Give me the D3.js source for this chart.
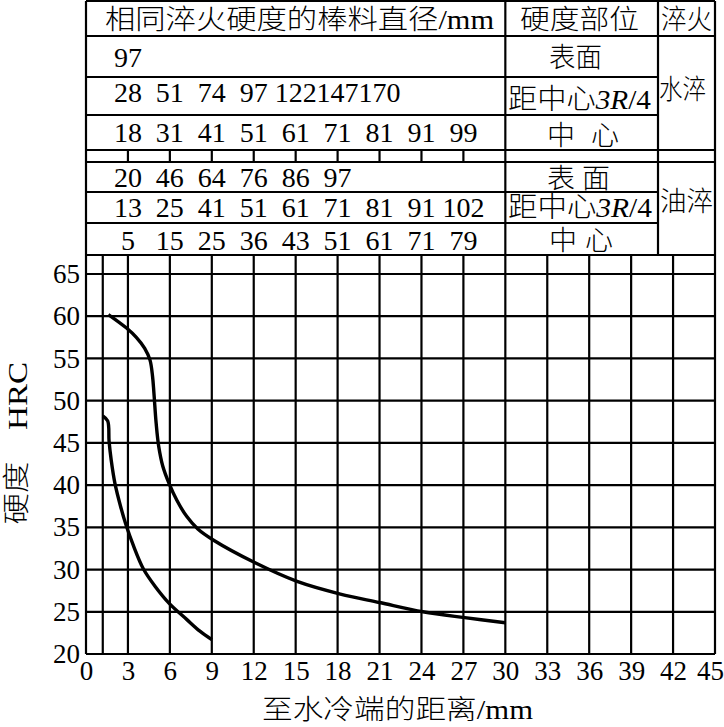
<!DOCTYPE html>
<html>
<head>
<meta charset="utf-8">
<script src="https://cdn.jsdelivr.net/npm/d3@7"></script>
<style>
    body { margin: 0; background: #fff; }
    text { font-family: "Liberation Serif", "Noto Sans CJK SC", serif; font-weight: 300; fill: #000; }
</style>
</head>
<body>
<div id="chart"></div>
<script>

// axis ticks
var distTicks = [0, 3, 6, 9, 12, 15, 18, 21, 24, 27, 30, 33, 36, 39, 42, 45];
var hrcTicks = [20, 25, 30, 35, 40, 45, 50, 55, 60, 65];
var gridDist = [1.2, 3, 6, 9, 12, 15, 18, 21, 24, 27, 30, 33, 36, 39, 42];

// bar diameters with the same hardness (mm), one per 3 mm column
var waterSurface = [97];
var waterQuarter = [28, 51, 74, 97, 122, 147, 170];
var waterCenter = [18, 31, 41, 51, 61, 71, 81, 91, 99];
var oilSurface = [20, 46, 64, 76, 86, 97];
var oilQuarter = [13, 25, 41, 51, 61, 71, 81, 91, 102];
var oilCenter = [5, 15, 25, 36, 43, 51, 61, 71, 79];
var colDist = [3, 6, 9, 12, 15, 18, 21, 24, 27];

// hardness curves [distance mm, HRC]
var upperCurve = [[1.6, 60.2], [2.9, 58.6], [3.6, 57.5], [4.2, 56.2], [4.58, 54.8], [4.76, 52.9],
    [4.86, 50.9], [5.02, 47.3], [5.2, 44.6], [5.5, 42.2], [5.94, 40.2], [6.5, 38.2],
    [7.2, 36.3], [8.0, 34.8], [9.1, 33.5], [12.1, 30.8], [15.1, 28.6], [18.2, 27.1], [21, 26.1],
    [24.1, 25.0], [27.1, 24.3], [30, 23.7]];
var lowerCurve = [[1.2, 48.2], [1.55, 47.6], [1.65, 45.2], [1.8, 43.0], [2.07, 40.2], [2.47, 37.5],
    [2.86, 35.3], [3.4, 32.8], [4.1, 30.1], [4.95, 28.0], [5.95, 26.0], [7.2, 24.1],
    [8.15, 22.7], [9.0, 21.7]];

var W = 724, H = 727;
var left = 86, right = 715, tableTop = 1, chartTop = 255, chartBottom = 654;
var quenchCol = 658;

var x = d3.scaleLinear().domain([0, 45]).range([left, right]);
var y = d3.scaleLinear().domain([20, 65]).range([chartBottom, 274]);

var svg = d3.select("#chart").append("svg")
    .attr("width", W)
    .attr("height", H);

svg.append("rect").attr("width", W).attr("height", H).attr("fill", "#fff");

var lines = svg.append("g")
    .attr("stroke", "#000")
    .attr("stroke-width", 2.2)
    .attr("fill", "none");

function hline(y0, x0, x1) {
    lines.append("line").attr("x1", x0).attr("x2", x1).attr("y1", y0).attr("y2", y0);
}
function vline(x0, y0, y1) {
    lines.append("line").attr("x1", x0).attr("x2", x0).attr("y1", y0).attr("y2", y1);
}

// table frame
var partCol = x(30);
hline(tableTop, left, right);
hline(36, left, right);
hline(77, left, quenchCol);
hline(115, left, quenchCol);
hline(150, left, right);
hline(162, left, right);
hline(192, left, quenchCol);
hline(223, left, quenchCol);
hline(chartTop, left, right);
vline(left, tableTop, chartBottom);
vline(right, tableTop, chartBottom);
vline(partCol, tableTop, chartTop);
vline(quenchCol, tableTop, chartTop);
colDist.forEach(function (d) {
    vline(x(d), 150, 162);
});

// chart grid
hrcTicks.forEach(function (d) {
    hline(y(d), left, right);
});
gridDist.forEach(function (d) {
    vline(x(d), chartTop, chartBottom);
});

// curves
var line = d3.line()
    .curve(d3.curveCatmullRom.alpha(0.5))
    .x(function (d) { return x(d[0]); })
    .y(function (d) { return y(d[1]); });

svg.selectAll(".curve")
    .data([upperCurve, lowerCurve])
    .enter().append("path")
    .attr("class", "curve")
    .attr("d", line)
    .attr("fill", "none")
    .attr("stroke", "#000")
    .attr("stroke-width", 3.4);

// table numbers
var rows = [
    {vals: waterSurface, base: 67},
    {vals: waterQuarter, base: 102},
    {vals: waterCenter, base: 142},
    {vals: oilSurface, base: 187},
    {vals: oilQuarter, base: 217},
    {vals: oilCenter, base: 250}
];
rows.forEach(function (r) {
    svg.append("g").selectAll("text")
        .data(r.vals)
        .enter().append("text")
        .attr("x", function (d, i) { return x(colDist[i]); })
        .attr("y", r.base)
        .attr("text-anchor", "middle")
        .attr("font-size", 28)
        .text(function (d) { return d; });
});

function label(txt, x0, y0, len, size) {
    var t = svg.append("text")
        .attr("x", x0)
        .attr("y", y0)
        .attr("font-size", size || 27)
        .text(txt);
    if (len) t.attr("textLength", len).attr("lengthAdjust", "spacingAndGlyphs");
    return t;
}

function quarterLabel(x0, y0, len) {
    var t = svg.append("text")
        .attr("x", x0)
        .attr("y", y0)
        .attr("font-size", 28)
        .attr("textLength", len)
        .attr("lengthAdjust", "spacingAndGlyphs");
    t.append("tspan").text("距中心");
    t.append("tspan").attr("font-style", "italic").text("3R");
    t.append("tspan").text("/4");
}

// header row
label("相同淬火硬度的棒料直径/mm", 105, 29, 389);
label("硬度部位", 520, 29, 119);
label("淬火", 661, 29, 51);

// hardness position column
label("表面", 549, 67, 53);
quarterLabel(508, 109, 143);
label("中", 547, 145, 28);
label("心", 591, 145, 28);
label("表", 547, 188, 28);
label("面", 582, 188, 28);
quarterLabel(508, 217, 144);
label("中", 549, 250, 28);
label("心", 585, 250, 28);

// quench column
label("水淬", 659, 99, 47);
label("油淬", 660, 211, 53);

// axes
var yAxis = d3.axisLeft(y).tickValues(hrcTicks).tickSize(0).tickPadding(6);
var xAxis = d3.axisBottom(x).tickValues(distTicks).tickSize(0).tickPadding(7);

var gy = svg.append("g").attr("transform", "translate(" + left + ",0)").call(yAxis);
var gx = svg.append("g").attr("transform", "translate(0," + chartBottom + ")").call(xAxis);
[gy, gx].forEach(function (g) {
    g.select(".domain").remove();
    g.attr("font-family", null);
    g.selectAll("text").attr("font-size", 27).attr("fill", "#000");
});
// last label sits against the right edge
gx.selectAll("text").filter(function (d) { return d === 45; }).attr("dx", -5);

// axis titles
label("至水冷端的距离/mm", 262, 719, 271);

svg.append("text")
    .attr("transform", "translate(26,493) rotate(-90)")
    .attr("text-anchor", "middle")
    .attr("font-size", 27)
    .attr("textLength", 63)
    .attr("lengthAdjust", "spacingAndGlyphs")
    .text("硬度");
svg.append("text")
    .attr("transform", "translate(27,396) rotate(-90)")
    .attr("text-anchor", "middle")
    .attr("font-size", 27)
    .attr("textLength", 68)
    .attr("lengthAdjust", "spacingAndGlyphs")
    .text("HRC");

</script>
</body>
</html>
